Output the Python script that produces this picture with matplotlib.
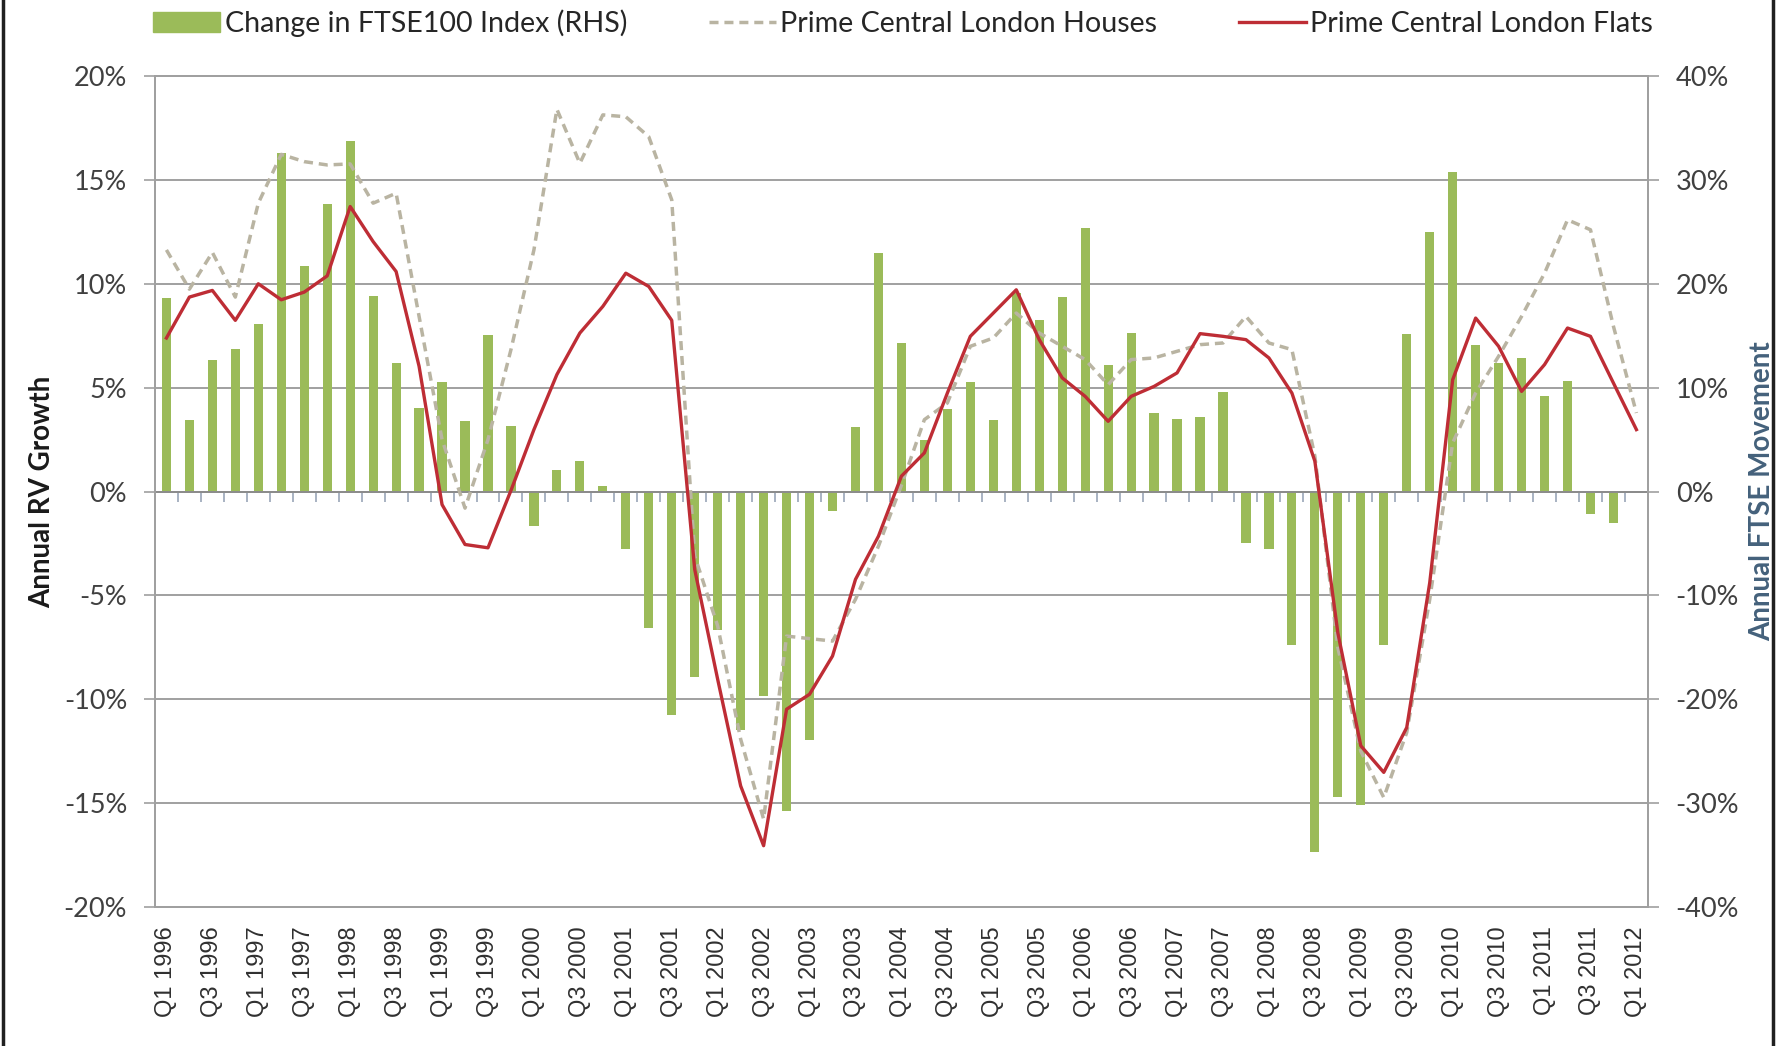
import matplotlib
matplotlib.use("Agg")
import matplotlib.pyplot as plt
import numpy as np
from matplotlib.patches import Patch
from matplotlib.lines import Line2D
from matplotlib.ticker import FuncFormatter, FixedLocator

plt.rcParams['axes.unicode_minus'] = False

# quarterly categories Q1 1996 .. Q1 2012
years = list(range(1996, 2013))
quarters = ["Q%d %d" % (q, y) for y in years for q in (1, 2, 3, 4)][:65]

# annual change in FTSE100 (%), right axis
ftse = [18.6, 6.9, 12.7, 13.7, 16.1, 32.6, 21.7, 27.7, 33.7, 18.8,
        12.4, 8.0, 10.5, 6.8, 15.1, 6.3, -3.3, 2.1, 2.9, 0.5,
        -5.5, -13.1, -21.5, -17.9, -13.3, -23.0, -19.7, -30.8, -23.9, -1.9,
        6.2, 23.0, 14.3, 5.0, 7.95, 10.5, 6.9, 19.1, 16.5, 18.7,
        25.4, 12.2, 15.3, 7.6, 7.0, 7.2, 9.6, -5.0, -5.5, -14.8,
        -34.7, -29.4, -30.2, -14.8, 15.2, 25.0, 30.8, 14.1, 12.4, 12.9,
        9.2, 10.6, -2.2, -3.0, 0.0]

# annual rental value growth (%), left axis
houses = [11.63, 9.74, 11.51, 9.36, 13.88, 16.23, 15.88, 15.72, 15.77, 13.88,
          14.36, 8.43, 2.5, -0.8, 2.5, 6.83, 11.63, 18.4, 15.8, 18.13,
          18.04, 17.08, 14.04, -3.1, -6.47, -11.92, -15.77, -6.96, -7.08, -7.2,
          -5.19, -2.63, 0.3, 3.46, 4.26, 6.99, 7.39, 8.59, 7.63, 6.99,
          6.35, 5.14, 6.35, 6.43, 6.75, 7.07, 7.15, 8.43, 7.15, 6.83,
          1.7, -7.5, -12.5, -14.73, -11.6, -5.2, 2.34, 4.74, 6.51, 8.43,
          10.51, 13.08, 12.6, 7.95, 3.78]

flats = [7.39, 9.36, 9.68, 8.24, 10.0, 9.23, 9.6, 10.38, 13.72, 12.03,
         10.59, 6.03, -0.63, -2.55, -2.71, 0.05, 2.98, 5.63, 7.63, 8.91,
         10.51, 9.87, 8.24, -3.75, -9.04, -14.17, -17.05, -10.48, -9.76, -7.92,
         -4.23, -2.15, 0.74, 1.86, 4.74, 7.47, 8.59, 9.71, 7.31, 5.47,
         4.58, 3.38, 4.58, 5.06, 5.71, 7.6, 7.47, 7.31, 6.43, 4.74,
         1.46, -6.8, -12.24, -13.52, -11.36, -4.4, 5.38, 8.35, 6.99, 4.82,
         6.11, 7.87, 7.47, 5.22, 2.98]

GREEN = '#9bbb59'
RED = '#be2d35'
TAN = '#b9b4a2'
GRID = '#a0a0a0'
TXT = '#404040'

x = np.arange(len(quarters))

fig = plt.figure(figsize=(17.85, 10.46), dpi=100)
ax = fig.add_axes([0.0868, 0.1329, 0.8364, 0.7944])
ax2 = ax.twinx()

# right axis (bars + grid) underneath, left axis (lines) on top
ax.set_zorder(2)
ax2.set_zorder(1)
ax.patch.set_visible(False)

ax2.bar(x, ftse, width=0.4, color=GREEN, zorder=2)
ax2.set_ylim(-40, 40)
ax2.yaxis.set_major_locator(FixedLocator(np.arange(-40, 41, 10)))
ax2.yaxis.set_major_formatter(FuncFormatter(lambda v, p: "%d%%" % v))
ax2.grid(axis='y', color=GRID, linewidth=1.4, zorder=0)
ax2.set_axisbelow(True)

ax.plot(x, houses, color=TAN, linewidth=2.5, dashes=(2.6, 1.7))
ax.plot(x, flats, color=RED, linewidth=2.4)
ax.set_ylim(-20, 20)
ax.set_xlim(-0.5, len(quarters) - 0.5)
ax.yaxis.set_major_locator(FixedLocator(np.arange(-20, 21, 5)))
ax.yaxis.set_major_formatter(FuncFormatter(lambda v, p: "%d%%" % v))

ax.set_xticks(x[::2])
ax.set_xticklabels(quarters[::2], rotation=90, fontsize=17,
                   family='Liberation Sans', color='#303030')
ax.tick_params(axis='x', length=0, pad=14)

for a in (ax, ax2):
    a.tick_params(axis='y', direction='out', length=8, width=1.2, color=GRID,
                  labelsize=19.5, labelcolor=TXT, pad=12)
    for lab in a.get_yticklabels():
        lab.set_family('Lato')
    for s in a.spines.values():
        s.set_color(GRID)
        s.set_linewidth(1.4)

# category axis crossing at 0 with small tick marks between categories
sec = ax.secondary_xaxis(0.5)
sec.set_alignment('bottom')
sec.set_xticks(np.arange(0.5, len(quarters) - 0.5, 1.0))
sec.set_xticklabels([])
sec.tick_params(axis='x', direction='out', length=7, width=1.2, color='#9aa6b8')
sec.spines['bottom'].set_color('#8c8c8c')
sec.spines['bottom'].set_linewidth(1.4)
sec.spines['top'].set_visible(False)

ax.set_ylabel('Annual RV Growth', fontsize=20, fontweight='bold',
              family='Lato', color='#1a1a1a')
ax.yaxis.set_label_coords(-0.0666, 0.5)
ax2.set_ylabel('Annual FTSE Movement', fontsize=20, fontweight='bold',
               family='Lato', color='#44617b')
ax2.yaxis.set_label_coords(1.068, 0.5)

handles = [Patch(facecolor=GREEN, edgecolor=GREEN),
           Line2D([], [], color=TAN, linewidth=2.5, dashes=(2.6, 1.7)),
           Line2D([], [], color=RED, linewidth=2.4)]
labels = ['Change in FTSE100 Index (RHS)', 'Prime Central London Houses',
          'Prime Central London Flats']
fig.legend(handles, labels, loc='center', bbox_to_anchor=(0.506, 0.978),
           ncol=3, frameon=False, handlelength=2.35, handleheight=0.7,
           handletextpad=0.15, columnspacing=2.85,
           prop={'family': 'Lato', 'size': 20.6}, labelcolor='#262626')

# outer frame lines like the source picture
fig.add_artist(Line2D([0.0015, 0.0015], [0, 1], color='#202020', linewidth=2.5,
                      transform=fig.transFigure))
fig.add_artist(Line2D([0.9933, 0.9933], [0, 1], color='#202020', linewidth=2.5,
                      transform=fig.transFigure))

fig.savefig('out.png', dpi=100)
